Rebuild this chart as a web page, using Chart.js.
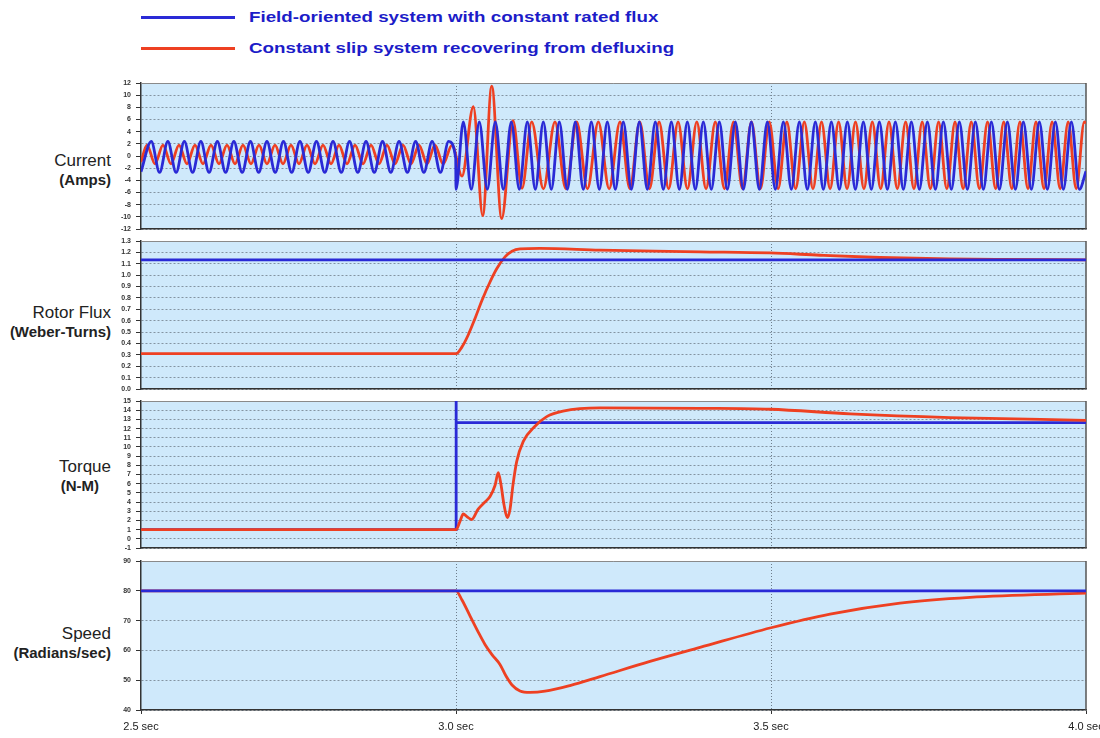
<!DOCTYPE html>
<html>
<head>
<meta charset="utf-8">
<script src="https://cdn.jsdelivr.net/npm/chart.js@4"></script>
<style>
  body { margin: 0; background: #fff; width: 1100px; height: 738px; position: relative; overflow: hidden;
         font-family: "Liberation Sans", Arial, sans-serif; }
  canvas.panel { position: absolute; left: 0; }
  .sw { position: absolute; left: 141px; width: 94px; height: 3px; }
  .lt { position: absolute; left: 249px; font-size: 15px; font-weight: bold; color: #1c1cc8;
        line-height: 18px; white-space: nowrap; transform: scaleX(1.25); transform-origin: left center; }
  .yl { position: absolute; right: 989px; text-align: right; line-height: 19px; color: #222; white-space: nowrap; }
  .yl .m { font-size: 17px; }
  .yl .s { font-size: 15px; font-weight: bold; }
</style>
</head>
<body>
<div class="sw" style="top:16px;background:#2a2ad6"></div>
<div class="lt" style="top:8px">Field-oriented system with constant rated flux</div>
<div class="sw" style="top:47px;background:#ee4022"></div>
<div class="lt" style="top:39px">Constant slip system recovering from defluxing</div>

<div class="yl" style="top:151px"><div class="m">Current</div><div class="s">(Amps)</div></div>
<div class="yl" style="top:303px"><div class="m">Rotor Flux</div><div class="s">(Weber-Turns)</div></div>
<div class="yl" style="top:457px"><div class="m">Torque</div><div class="s" style="margin-right:12px">(N-M)</div></div>
<div class="yl" style="top:624px"><div class="m">Speed</div><div class="s">(Radians/sec)</div></div>

<canvas id="cCurrent" class="panel"></canvas>
<canvas id="cFlux" class="panel"></canvas>
<canvas id="cTorque" class="panel"></canvas>
<canvas id="cSpeed" class="panel"></canvas>

<script>
// x axis (seconds)
const xTicks = [2.5, 3.0, 3.5, 4.0];
const xTickLabels = ['2.5 sec', '3.0 sec', '3.5 sec', '4.0 sec'];

// Current (Amps): [time, value] at each crest and trough
const currentField = [
  [2.5,-2.6],[2.5163,2.4],[2.5295,-2.7],[2.5426,2.4],[2.5557,-2.7],[2.5688,2.4],[2.5819,-2.7],[2.5950,2.4],
  [2.6081,-2.7],[2.6212,2.4],[2.6343,-2.7],[2.6474,2.4],[2.6606,-2.7],[2.6737,2.4],[2.6868,-2.7],[2.6999,2.4],
  [2.7130,-2.7],[2.7261,2.4],[2.7392,-2.7],[2.7523,2.4],[2.7654,-2.7],[2.7785,2.4],[2.7917,-2.7],[2.8048,2.4],
  [2.8179,-2.7],[2.8310,2.4],[2.8441,-2.7],[2.8572,2.4],[2.8703,-2.7],[2.8834,2.4],[2.8965,-2.7],[2.9096,2.4],
  [2.9228,-2.7],[2.9359,2.4],[2.9490,-2.7],[2.9621,2.4],[2.9752,-2.7],[2.9883,2.4],[2.9995,-0.4],[3.0,-5.5],
  [3.0116,5.6],[3.0243,-5.5],[3.0370,5.6],[3.0497,-5.5],[3.0624,5.6],[3.0751,-5.5],[3.0878,5.6],[3.1005,-5.5],
  [3.1132,5.6],[3.1259,-5.5],[3.1386,5.6],[3.1513,-5.5],[3.1640,5.6],[3.1767,-5.5],[3.1894,5.6],[3.2021,-5.5],
  [3.2148,5.6],[3.2275,-5.5],[3.2402,5.6],[3.2529,-5.5],[3.2656,5.6],[3.2783,-5.5],[3.2910,5.6],[3.3037,-5.5],
  [3.3164,5.6],[3.3291,-5.5],[3.3418,5.6],[3.3545,-5.5],[3.3672,5.6],[3.3799,-5.5],[3.3926,5.6],[3.4053,-5.5],
  [3.4180,5.6],[3.4307,-5.5],[3.4434,5.6],[3.4561,-5.5],[3.4688,5.6],[3.4815,-5.5],[3.4942,5.6],[3.5069,-5.5],
  [3.5196,5.6],[3.5323,-5.5],[3.5450,5.6],[3.5577,-5.5],[3.5704,5.6],[3.5831,-5.5],[3.5958,5.6],[3.6085,-5.5],
  [3.6212,5.6],[3.6339,-5.5],[3.6466,5.6],[3.6593,-5.5],[3.6720,5.6],[3.6847,-5.5],[3.6974,5.6],[3.7101,-5.5],
  [3.7228,5.6],[3.7355,-5.5],[3.7482,5.6],[3.7609,-5.5],[3.7736,5.6],[3.7863,-5.5],[3.7990,5.6],[3.8117,-5.5],
  [3.8244,5.6],[3.8371,-5.5],[3.8498,5.6],[3.8625,-5.5],[3.8752,5.6],[3.8879,-5.5],[3.9006,5.6],[3.9133,-5.5],
  [3.9260,5.6],[3.9387,-5.5],[3.9514,5.6],[3.9641,-5.5],[3.9768,5.6],[3.9895,-5.5],[4.0,-2.5]
];
const currentSlip = [
  [2.5,-1.0],[2.5095,1.8],[2.5222,-1.3],[2.5349,1.8],[2.5476,-1.3],[2.5603,1.8],[2.5730,-1.3],[2.5857,1.8],
  [2.5984,-1.3],[2.6111,1.8],[2.6238,-1.3],[2.6365,1.8],[2.6492,-1.3],[2.6619,1.8],[2.6746,-1.3],[2.6873,1.8],
  [2.7000,-1.3],[2.7127,1.8],[2.7254,-1.3],[2.7381,1.8],[2.7508,-1.3],[2.7635,1.8],[2.7762,-1.3],[2.7889,1.8],
  [2.8016,-1.3],[2.8143,1.8],[2.8270,-1.3],[2.8397,1.8],[2.8524,-1.3],[2.8651,1.8],[2.8778,-1.3],[2.8905,1.8],
  [2.9032,-1.3],[2.9159,1.8],[2.9286,-1.3],[2.9413,1.8],[2.9540,-1.3],[2.9667,1.8],[2.9794,-1.3],[2.9937,1.8],
  [3.0095,-3.3],[3.0275,8.1],[3.0424,-9.8],[3.0567,11.5],[3.0725,-10.3],[3.0905,5.8],[3.1048,-5.3],[3.1202,5.6],
  [3.1387,-5.4],[3.1571,5.6],[3.1744,-5.4],[3.1916,5.6],[3.2087,-5.4],[3.2259,5.6],[3.2431,-5.4],[3.2603,5.6],
  [3.2760,-5.4],[3.2917,5.6],[3.3071,-5.4],[3.3224,5.6],[3.3375,-5.4],[3.3525,5.6],[3.3674,-5.4],[3.3822,5.6],
  [3.3969,-5.4],[3.4116,5.6],[3.4261,-5.4],[3.4405,5.6],[3.4548,-5.4],[3.4690,5.6],[3.4832,-5.4],[3.4973,5.6],
  [3.5113,-5.4],[3.5252,5.6],[3.5391,-5.4],[3.5529,5.6],[3.5666,-5.4],[3.5802,5.6],[3.5938,-5.4],[3.6073,5.6],
  [3.6207,-5.4],[3.6341,5.6],[3.6475,-5.4],[3.6608,5.6],[3.6741,-5.4],[3.6873,5.6],[3.7005,-5.4],[3.7137,5.6],
  [3.7269,-5.4],[3.7400,5.6],[3.7530,-5.4],[3.7660,5.6],[3.7791,-5.4],[3.7921,5.6],[3.8050,-5.4],[3.8179,5.6],
  [3.8308,-5.4],[3.8437,5.6],[3.8566,-5.4],[3.8694,5.6],[3.8823,-5.4],[3.8951,5.6],[3.9079,-5.4],[3.9206,5.6],
  [3.9334,-5.4],[3.9462,5.6],[3.9590,-5.4],[3.9717,5.6],[3.9845,-5.4],[3.9973,5.6],[4.0,5.4]
];

// Rotor flux (Weber-Turns)
const fluxField = [[2.5,1.135],[4.0,1.135]];
const fluxSlip = [
  [2.5,0.31],[3.0,0.31],[3.0095,0.37],[3.019,0.47],[3.0302,0.62],[3.0413,0.78],[3.054,0.94],[3.0651,1.06],
  [3.0778,1.16],[3.0889,1.21],[3.1016,1.23],[3.1333,1.235],[3.2286,1.22],[3.3873,1.205],[3.4984,1.195],
  [3.5778,1.175],[3.673,1.155],[3.7841,1.142],[3.8635,1.138],[4.0,1.135]
];

// Torque (N-M)
const torqueField = [[2.5,1.0],[3.0,1.0],[3.0,16],[3.0005,12.65],[4.0,12.65]];
const torqueSlip = [
  [2.5,1.0],[3.0,1.0],[3.0063,1.9],[3.0116,2.7],[3.0175,2.4],[3.0249,2.1],[3.0349,3.2],[3.046,4.0],
  [3.054,4.6],[3.0619,5.8],[3.0671,7.2],[3.0714,5.9],[3.0762,3.7],[3.0814,2.3],[3.0857,3.2],[3.0905,5.9],
  [3.0963,8.4],[3.1068,10.6],[3.1254,12.25],[3.144,13.3],[3.1698,13.9],[3.2286,14.25],[3.3873,14.2],
  [3.4984,14.1],[3.6254,13.6],[3.7841,13.2],[4.0,12.9]
];

// Speed (Radians/sec)
const speedField = [[2.5,80],[4.0,80]];
const speedSlip = [
  [2.5,80],[3.0,80],[3.0095,76.9],[3.0222,71.6],[3.0349,66.3],[3.046,62],[3.0571,58.6],[3.0698,55.3],
  [3.0794,51.4],[3.0889,48.4],[3.1016,46.4],[3.1175,45.9],[3.1413,46.3],[3.181,48.2],[3.2286,51.2],
  [3.3079,56.3],[3.3873,61.0],[3.5,67.6],[3.5937,72.2],[3.7048,75.9],[3.8159,77.8],[4.0,79.2]
];

const BLUE = '#2a2ad6';
const RED = '#ee4022';

function pts(list) {
  return list.map(([x, y]) => ({ x, y }));
}

function line(data, color, curved) {
  return {
    data: pts(data),
    borderColor: color,
    backgroundColor: color,
    borderWidth: 2.8,
    pointRadius: 0,
    fill: false,
    tension: 0,
    cubicInterpolationMode: curved ? 'monotone' : 'default'
  };
}

// light blue plot background + thin top/right frame
const plotArea = {
  id: 'plotArea',
  beforeDraw(chart) {
    const { ctx, chartArea: a } = chart;
    ctx.save();
    ctx.fillStyle = '#cfe9fb';
    ctx.fillRect(a.left, a.top, a.right - a.left, a.bottom - a.top);
    ctx.restore();
  },
  beforeDatasetsDraw(chart) {
    const { ctx, chartArea: a } = chart;
    ctx.save();
    ctx.lineWidth = 1;
    ctx.strokeStyle = '#8a8a8a';
    ctx.beginPath();
    ctx.moveTo(a.left, a.top + 0.5);
    ctx.lineTo(a.right, a.top + 0.5);
    ctx.stroke();
    ctx.strokeStyle = '#555';
    ctx.lineWidth = 1.5;
    ctx.beginPath();
    ctx.moveTo(a.right, a.top);
    ctx.lineTo(a.right, a.bottom);
    ctx.stroke();
    ctx.restore();
  }
};

function panel(id, top, bottom, last, yMin, yMax, yStep, fmt, datasets) {
  const cv = document.getElementById(id);
  const padTop = 10;
  const padBottom = last ? 0 : 10;
  const xh = last ? 30 : 0;
  cv.width = 1100;
  cv.height = bottom - top + padTop + padBottom + xh;
  cv.style.top = (top - padTop) + 'px';

  new Chart(cv, {
    type: 'line',
    data: { datasets },
    plugins: [plotArea],
    options: {
      responsive: false,
      animation: false,
      events: [],
      layout: { padding: { top: padTop, bottom: padBottom, left: 0, right: 14 } },
      plugins: { legend: { display: false }, tooltip: { enabled: false } },
      scales: {
        x: {
          type: 'linear',
          min: 2.5,
          max: 4.0,
          afterBuildTicks: s => { s.ticks = xTicks.map(v => ({ value: v })); },
          afterFit: s => { s.height = xh; s.paddingLeft = 0; s.paddingRight = 0; },
          grid: {
            color: c => (c.tick && (c.tick.value === 3 || c.tick.value === 3.5)) ? '#6e7e8c' : 'rgba(0,0,0,0)',
            drawTicks: last,
            tickLength: 4,
            tickColor: '#333'
          },
          border: { color: '#333', width: 1.5, dash: [1, 2] },
          ticks: {
            display: last,
            autoSkip: false,
            maxRotation: 0,
            padding: 6,
            color: '#222',
            font: { family: 'Liberation Sans', size: 11 },
            callback: v => xTickLabels[xTicks.indexOf(v)]
          }
        },
        y: {
          min: yMin,
          max: yMax,
          afterFit: s => { s.width = 141; },
          grid: { color: '#8494a2', tickLength: 5, tickColor: '#333' },
          border: { color: '#333', width: 1.5, dash: [2, 2] },
          ticks: {
            stepSize: yStep,
            autoSkip: false,
            padding: 5,
            color: '#333',
            font: { family: 'Liberation Sans', size: 7, weight: 'bold' },
            callback: fmt
          }
        }
      }
    }
  });
}

const plain = v => String(Math.round(v));

panel('cCurrent', 83, 229, false, -12, 12, 2, plain,
  [line(currentField, BLUE, true), line(currentSlip, RED, true)]);
panel('cFlux', 241, 389, false, 0, 1.3, 0.1, v => v.toFixed(1),
  [line(fluxField, BLUE, false), line(fluxSlip, RED, true)]);
panel('cTorque', 401, 548, false, -1, 15, 1, plain,
  [line(torqueSlip, RED, true), line(torqueField, BLUE, false)]);
panel('cSpeed', 561, 710, true, 40, 90, 10, plain,
  [line(speedField, BLUE, false), line(speedSlip, RED, true)]);
</script>
</body>
</html>
